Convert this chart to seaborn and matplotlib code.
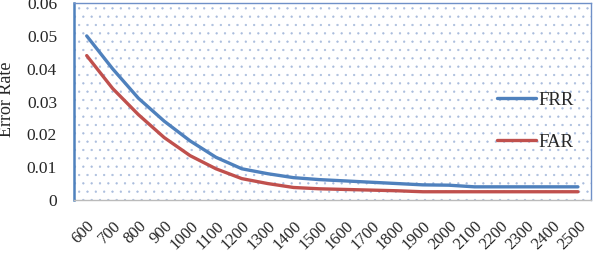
import pandas as pd
import seaborn as sns
import matplotlib.pyplot as plt
from matplotlib.patches import Rectangle

# Values
sizes = ['600', '700', '800', '900', '1000', '1100', '1200', '1300', '1400', '1500',
         '1600', '1700', '1800', '1900', '2000', '2100', '2200', '2300', '2400', '2500']
frr = [0.050, 0.0400, 0.0310, 0.0240, 0.0180, 0.0130, 0.0095, 0.0080, 0.0068, 0.0062,
       0.0058, 0.0054, 0.0050, 0.0046, 0.0045, 0.0040, 0.0040, 0.0040, 0.0040, 0.0040]
far = [0.044, 0.0340, 0.0260, 0.0190, 0.0135, 0.0095, 0.0065, 0.0050, 0.0038, 0.0034,
       0.0032, 0.0030, 0.0028, 0.0025, 0.0025, 0.0025, 0.0025, 0.0025, 0.0025, 0.0025]

df = pd.DataFrame({'size': sizes * 2,
                   'rate': frr + far,
                   'series': ['FRR'] * len(sizes) + ['FAR'] * len(sizes)})

sns.set_style('white')
plt.rcParams['font.family'] = ['Liberation Serif', 'DejaVu Serif']
plt.rcParams['hatch.linewidth'] = 0.4

fig = plt.figure(figsize=(5.95, 2.58), dpi=100)
ax = fig.add_axes([0.124, 0.225, 0.869, 0.763])

# dotted pattern fill like the spreadsheet plot area
ax.add_patch(Rectangle((0, 0), 1, 1, transform=ax.transAxes, facecolor='none',
                       edgecolor='#A9BCDD', hatch='..', linewidth=0, zorder=0))

sns.lineplot(data=df, x='size', y='rate', hue='series', sort=False,
             palette={'FRR': '#4F81BD', 'FAR': '#C0504D'}, linewidth=2.4, ax=ax)

ax.set_xlim(-0.5, len(sizes) - 0.5)
ax.set_ylim(0, 0.06)
ax.set_yticks([0, 0.01, 0.02, 0.03, 0.04, 0.05, 0.06])
ax.set_yticklabels(['0', '0.01', '0.02', '0.03', '0.04', '0.05', '0.06'], fontsize=12.5)
ax.set_xticks(range(len(sizes)))
ax.set_xticklabels(sizes, rotation=45, ha='right', rotation_mode='anchor', fontsize=12)
ax.set_xticks([i + 0.5 for i in range(-1, len(sizes))], minor=True)
ax.tick_params(axis='x', which='major', length=0, pad=13)
ax.tick_params(axis='x', which='minor', length=4, color='#BBBBBB', width=0.8)
ax.tick_params(axis='y', length=0, pad=12)
ax.set_xlabel('')
ax.set_ylabel('Error Rate', fontsize=13)
ax.yaxis.set_label_coords(-0.114, 0.51)

for side in ['top', 'right']:
    ax.spines[side].set_color('#6F90C8')
    ax.spines[side].set_linewidth(1.0)
ax.spines['left'].set_color('#4F81BD')
ax.spines['left'].set_linewidth(1.8)
ax.spines['bottom'].set_color('#BBBBBB')
ax.spines['bottom'].set_linewidth(1.0)

handles, labels = ax.get_legend_handles_labels()
ax.legend(handles, labels, loc='center left', bbox_to_anchor=(0.785, 0.40),
          frameon=False, fontsize=13.5, labelspacing=1.3, handlelength=2.1,
          handletextpad=0.15)

fig.savefig('out.png', dpi=100)
